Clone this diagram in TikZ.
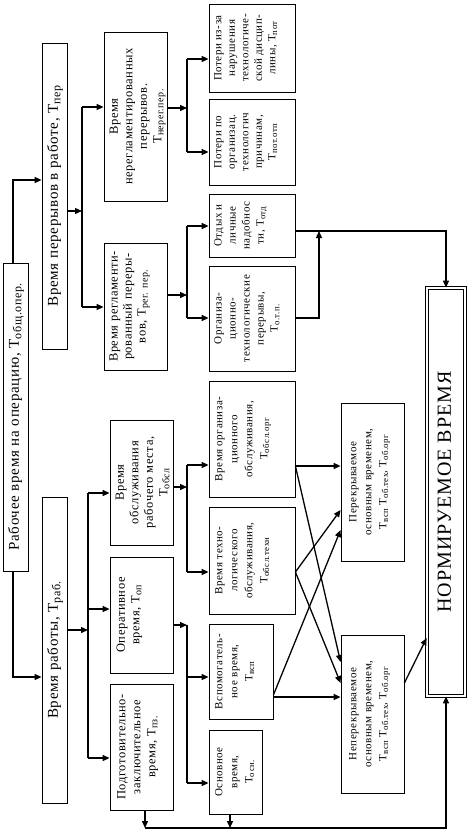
\documentclass[tikz,border=0pt]{standalone}
\usepackage{fontspec}
\setmainfont{Liberation Serif}[LetterSpace=5]
\usepackage{graphicx}
\usetikzlibrary{arrows.meta,fit}
\newcommand{\rtxt}[3]{\rotatebox{90}{\fontsize{#1}{#2}\selectfont\begin{tabular}{@{}c@{}}#3\end{tabular}}}
\newcommand{\Tsub}[1]{T\raisebox{-0.35ex}{\scalebox{0.8}{#1}}}
\begin{document}
\begin{tikzpicture}[x=1pt,y=-1pt,
  box/.style={draw, line width=0.8pt, inner sep=0pt},
  lbl/.style={inner sep=0pt},
  conn/.style={line width=1.3pt},
  arr/.style={conn, -{Triangle[length=7pt,width=6pt]}}]
\useasboundingbox (0,0) rectangle (474,832);

% boxes
\node[box, fit={(3,263) (28,571)}] (A) {};
\node[box, fit={(42,43) (67,349)}] (B) {};
\node[box, fit={(42,497) (67,803)}] (C) {};
\node[box, fit={(104,32) (167,201)}] (D) {};
\node[box, fit={(104,243) (167,370)}] (E) {};
\node[box, fit={(110,420) (173,545)}] (F) {};
\node[box, fit={(110,557) (173,673)}] (G) {};
\node[box, fit={(110,684) (173,810)}] (H) {};
\node[box, fit={(209,4) (295,92)}] (I) {};
\node[box, fit={(209,99) (295,185)}] (J) {};
\node[box, fit={(209,194) (295,257)}] (K) {};
\node[box, fit={(209,266) (295,371)}] (L) {};
\node[box, fit={(209,381) (295,497)}] (M) {};
\node[box, fit={(209,507) (295,614)}] (N) {};
\node[box, fit={(209,624) (273,719)}] (O) {};
\node[box, fit={(209,730) (262,814)}] (P) {};
\node[box, fit={(341,403) (404,561)}] (Q) {};
\node[box, fit={(341,635) (404,793)}] (R) {};
\node[draw, line width=0.8pt, double, double distance=2.5pt, inner sep=0pt, fit={(427,288) (465,696)}] (S) {};

% texts
\node[lbl] (At) at (A.center) {\rtxt{15}{17}{Рабочее время на операцию, \Tsub{общ.опер.}}};
\node[lbl] (Bt) at (B.center) {\rtxt{15}{17}{Время перерывов в работе, \Tsub{пер}}};
\node[lbl] (Ct) at (C.center) {\rtxt{15}{17}{Время работы, \Tsub{раб.}}};
\node[lbl, anchor=west] (Dt) at ([xshift=4pt]D.west) {\rtxt{12.5}{14.5}{Время\\нерегламентированных\\перерывов.\\\Tsub{нерег.пер.}}};
\node[lbl, anchor=west] (Et) at ([xshift=4pt]E.west) {\rtxt{12.5}{14}{Время регламенти-\\рованный переры-\\вов, \Tsub{рег. пер.}}};
\node[lbl, anchor=west] (Ft) at ([xshift=4pt]F.west) {\rtxt{12.5}{14.5}{Время\\обслуживания\\рабочего места,\\\Tsub{обсл}}};
\node[lbl, anchor=west] (Gt) at ([xshift=5pt]G.west) {\rtxt{12.5}{14.5}{Оперативное\\время, \Tsub{оп}}};
\node[lbl, anchor=west] (Ht) at ([xshift=5pt]H.west) {\rtxt{12.5}{15}{Подготовительно-\\заключительное\\время, \Tsub{пз.}}};
\node[lbl, anchor=west] (It) at ([xshift=3pt]I.west) {\rtxt{11}{13.5}{Потери из-за\\нарушения\\технологиче-\\ской дисцип-\\лины, \Tsub{пот}}};
\node[lbl, anchor=west] (Jt) at ([xshift=3pt]J.west) {\rtxt{11}{13.5}{Потери по\\организац.\\технологич\\причинам,\\\Tsub{пот.отп}}};
\node[lbl, anchor=west] (Kt) at ([xshift=3pt]K.west) {\rtxt{11}{14}{Отдых и\\личные\\надобнос\\ти, \Tsub{отд}}};
\node[lbl, anchor=west] (Lt) at ([xshift=3pt]L.west) {\rtxt{11}{14}{Организа-\\ционно-\\технологические\\перерывы,\\\Tsub{о.т.п.}}};
\node[lbl, anchor=west] (Mt) at ([xshift=3pt]M.west) {\rtxt{11}{15}{Время организа-\\ционного\\обслуживания,\\\Tsub{обсл.орг}}};
\node[lbl, anchor=west] (Nt) at ([xshift=3pt]N.west) {\rtxt{11}{15}{Время техно-\\логического\\обслуживания,\\\Tsub{обсл.техн}}};
\node[lbl, anchor=west] (Ot) at ([xshift=3pt]O.west) {\rtxt{11}{15}{Вспомогатель-\\ное время,\\\Tsub{всп}}};
\node[lbl, anchor=west] (Pt) at ([xshift=3pt]P.west) {\rtxt{11}{15}{Основное\\время,\\\Tsub{осн.}}};
\node[lbl, anchor=west] (Qt) at ([xshift=5pt]Q.west) {\rtxt{11}{15}{Перекрываемое\\основным временем,\\\Tsub{всп} \Tsub{об.тех}, \Tsub{об.орг}}};
\node[lbl, anchor=west] (Rt) at ([xshift=5pt]R.west) {\rtxt{11}{15}{Неперекрываемое\\основным временем,\\\Tsub{всп} \Tsub{об.тех}, \Tsub{об.орг}}};
\node[lbl] (St) at (S.center) {\rtxt{20}{24}{НОРМИРУЕМОЕ ВРЕМЯ}};

% helper coordinates
\coordinate (jAB) at (13,180);
\coordinate (jAC) at (13,677);
\coordinate (bBin) at (82,211);
\coordinate (bB1) at (82,107);
\coordinate (bB2) at (82,307);
\coordinate (bCin) at (88,630);
\coordinate (bC1) at (88,493);
\coordinate (bC2) at (88,609);
\coordinate (bC3) at (88,758);
\coordinate (bDin) at (187,108);
\coordinate (bD1) at (187,59);
\coordinate (bD2) at (187,152);
\coordinate (bEin) at (187,295);
\coordinate (bE1) at (187,226);
\coordinate (bE2) at (187,318);
\coordinate (bFin) at (187,487);
\coordinate (bF1) at (187,465);
\coordinate (bF2) at (187,572);
\coordinate (bGin) at (187,625);
\coordinate (bG1) at (187,677);
\coordinate (bG2) at (187,783);
\coordinate (hb) at (145,828);
\coordinate (pb) at (230,828);
\coordinate (ky) at (0,231);
\coordinate (lj) at (319,231);
\coordinate (ly) at (0,318);
\coordinate (my) at (0,466);
\coordinate (ny) at (0,572);
\coordinate (oy) at (0,697);
\coordinate (oy2) at (0,695);
\coordinate (q1) at (0,466);
\coordinate (q2) at (0,510);
\coordinate (q3) at (0,530);
\coordinate (r1) at (0,662);
\coordinate (r2) at (0,683);
\coordinate (r3) at (0,697);
\coordinate (ry) at (0,683);
\coordinate (sy) at (0,638);

% level 1
\draw[arr] (A.north -| jAB) |- (B.west |- jAB);
\draw[arr] (A.south -| jAC) |- (C.west |- jAC);
% from B
\draw[arr] (B.east |- bBin) -- (bBin);
\draw[conn] (bB1) -- (bB2);
\draw[arr] (bB1) -- (D.west |- bB1);
\draw[arr] (bB2) -- (E.west |- bB2);
% from C
\draw[arr] (C.east |- bCin) -- (bCin);
\draw[conn] (bC1) -- (bC3);
\draw[arr] (bC1) -- (F.west |- bC1);
\draw[arr] (bC2) -- (G.west |- bC2);
\draw[arr] (bC3) -- (H.west |- bC3);
% from D
\draw[arr] (D.east |- bDin) -- (bDin);
\draw[conn] (bD1) -- (bD2);
\draw[arr] (bD1) -- (I.west |- bD1);
\draw[arr] (bD2) -- (J.west |- bD2);
% from E
\draw[arr] (E.east |- bEin) -- (bEin);
\draw[conn] (bE1) -- (bE2);
\draw[arr] (bE1) -- (K.west |- bE1);
\draw[arr] (bE2) -- (L.west |- bE2);
% from F
\draw[arr] (F.east |- bFin) -- (bFin);
\draw[conn] (bF1) -- (bF2);
\draw[arr] (bF1) -- (M.west |- bF1);
\draw[arr] (bF2) -- (N.west |- bF2);
% from G
\draw[arr] (G.east |- bGin) -- (bGin);
\draw[conn] (bGin) -- (bG2);
\draw[arr] (bG1) -- (O.west |- bG1);
\draw[arr] (bG2) -- (P.west |- bG2);
% bottom line to S
\draw[arr] (H.south -| hb) -- (hb);
\draw[arr] (P.south -| pb) -- (pb);
\draw[arr] (hb) -| (S.south);
% breaks to S
\draw[arr] (K.east |- ky) -| (S.north);
\draw[arr] (L.east |- ly) -| (lj);
% crossing arrows
\draw[arr] (M.east |- my) -- (Q.west |- q1);
\draw[arr] (M.east |- my) -- (R.west |- r1);
\draw[arr] (N.east |- ny) -- (Q.west |- q2);
\draw[arr] (N.east |- ny) -- (R.west |- r2);
\draw[arr] (O.east |- oy2) -- (Q.west |- q3);
\draw[arr] (O.east |- oy) -- (R.west |- r3);
\draw[arr] (R.east |- ry) -- (S.west |- sy);
\end{tikzpicture}
\end{document}
